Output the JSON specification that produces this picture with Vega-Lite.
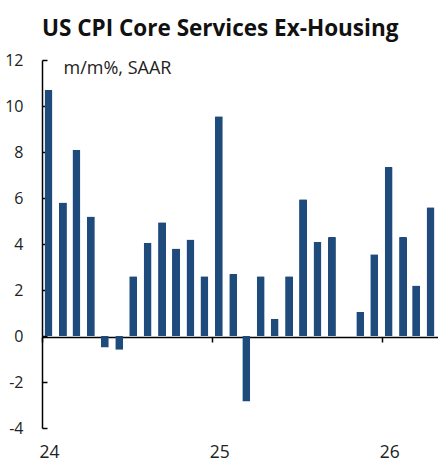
{
  "$schema": "https://vega.github.io/schema/vega-lite/v6.json",
  "width": 396,
  "height": 368,
  "autosize": {"type": "none"},
  "padding": {"left": 42, "top": 60, "right": 0, "bottom": 35},
  "background": "white",
  "title": {
    "text": "US CPI Core Services Ex-Housing",
    "anchor": "start",
    "frame": "group",
    "font": "Open Sans",
    "fontSize": 22.5,
    "fontWeight": "bold",
    "color": "#111111",
    "offset": 12
  },
  "config": {
    "view": {"stroke": null},
    "font": "Open Sans"
  },
  "data": {
    "values": [
      {"date": "2024-01-15", "value": 10.7},
      {"date": "2024-02-15", "value": 5.8},
      {"date": "2024-03-15", "value": 8.1},
      {"date": "2024-04-15", "value": 5.2},
      {"date": "2024-05-15", "value": -0.5},
      {"date": "2024-06-15", "value": -0.6},
      {"date": "2024-07-15", "value": 2.6},
      {"date": "2024-08-15", "value": 4.05},
      {"date": "2024-09-15", "value": 4.95},
      {"date": "2024-10-15", "value": 3.8},
      {"date": "2024-11-15", "value": 4.2},
      {"date": "2024-12-15", "value": 2.6},
      {"date": "2025-01-15", "value": 9.55},
      {"date": "2025-02-15", "value": 2.7},
      {"date": "2025-03-15", "value": -2.85},
      {"date": "2025-04-15", "value": 2.6},
      {"date": "2025-05-15", "value": 0.75},
      {"date": "2025-06-15", "value": 2.6},
      {"date": "2025-07-15", "value": 5.95},
      {"date": "2025-08-15", "value": 4.1},
      {"date": "2025-09-15", "value": 4.3},
      {"date": "2025-11-15", "value": 1.05},
      {"date": "2025-12-15", "value": 3.55},
      {"date": "2026-01-15", "value": 7.35},
      {"date": "2026-02-15", "value": 4.3},
      {"date": "2026-03-15", "value": 2.2},
      {"date": "2026-04-15", "value": 5.6}
    ]
  },
  "mark": {"type": "bar", "width": 8, "color": "#1f4a7c", "cornerRadiusEnd": 1},
  "encoding": {
    "x": {
      "field": "date",
      "type": "temporal",
      "scale": {"type": "utc", "domain": ["2024-01-01", "2026-05-01"], "padding": 0},
      "axis": {
        "title": null,
        "values": [
          {"year": 2024, "month": 1, "date": 1, "utc": true},
          {"year": 2025, "month": 1, "date": 1, "utc": true},
          {"year": 2026, "month": 1, "date": 1, "utc": true}
        ],
        "labelExpr": "utcFormat(datum.value, '%y')",
        "labelFlush": false,
        "labelAlign": "center",
        "offset": -91,
        "domainColor": "#000000",
        "domainWidth": 1.5,
        "tickColor": "#000000",
        "tickWidth": 1.5,
        "tickSize": 5,
        "labelPadding": 101,
        "labelOffset": 7,
        "labelFontSize": 17.5,
        "labelColor": "#222222",
        "labelFont": "Open Sans",
        "grid": false
      }
    },
    "y": {
      "field": "value",
      "type": "quantitative",
      "scale": {"domain": [-4, 12], "nice": false},
      "axis": {
        "title": "m/m%, SAAR",
        "titleAngle": 0,
        "titleAlign": "left",
        "titleBaseline": "alphabetic",
        "titleX": 21,
        "titleY": 13,
        "titleFontSize": 18,
        "titleFontWeight": "normal",
        "titleColor": "#222222",
        "titleFont": "Open Sans",
        "values": [-4, -2, 0, 2, 4, 6, 8, 10, 12],
        "labelExpr": "'' + datum.value",
        "domainColor": "#000000",
        "domainWidth": 1.5,
        "tickColor": "#000000",
        "tickWidth": 1.5,
        "tickSize": -5,
        "labelPadding": 24,
        "labelFontSize": 16,
        "labelColor": "#222222",
        "labelFont": "Open Sans",
        "grid": false
      }
    }
  }
}
